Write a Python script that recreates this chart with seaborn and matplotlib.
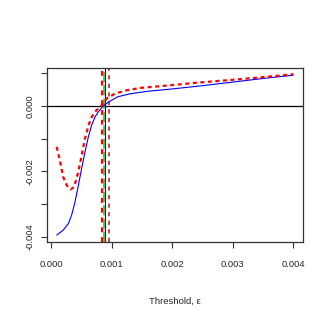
import numpy as np
import pandas as pd
import matplotlib
matplotlib.use("Agg")
import matplotlib.pyplot as plt
import seaborn as sns

# curva azul (solida) e vermelha (pontilhada)
limiar = [0.000094, 0.0002, 0.000286, 0.00034, 0.000396, 0.000451, 0.000506, 0.000561,
          0.000616, 0.00067, 0.000726, 0.00078, 0.00086, 0.00095, 0.0011, 0.0013,
          0.0016, 0.002, 0.0025, 0.003, 0.0035, 0.004]
azul = [-0.00395, -0.0038, -0.0036, -0.00334, -0.00294, -0.00243, -0.00191, -0.00141,
        -0.00095, -0.00059, -0.00034, -0.00018, 0.0, 0.00012, 0.00028, 0.00037,
        0.00045, 0.00052, 0.00062, 0.00073, 0.00084, 0.00094]

limiar_v = [0.000094, 0.00015, 0.0002, 0.00026, 0.000325, 0.00038, 0.00045, 0.000506,
            0.00056, 0.00062, 0.00067, 0.00075, 0.00084, 0.00092, 0.00106, 0.00125,
            0.00147, 0.0019, 0.0024, 0.003, 0.0035, 0.004]
vermelho = [-0.00125, -0.00171, -0.00217, -0.00243, -0.00255, -0.00248, -0.00202, -0.00151,
            -0.001, -0.00059, -0.00034, -0.00013, 0.00002, 0.00023, 0.00038, 0.00048,
            0.00055, 0.00062, 0.00071, 0.0008, 0.00088, 0.00097]

# linhas verticais (limiares estimados)
v_vermelho = 0.000847
v_verde = 0.000875
v_azul = 0.000896
v_marrom = 0.00095

df_azul = pd.DataFrame({"x": limiar, "y": azul})
df_verm = pd.DataFrame({"x": limiar_v, "y": vermelho})

sns.set_style("white")
plt.rcParams['font.family'] = ['Liberation Sans', 'DejaVu Sans']

fig = plt.figure(figsize=(3.27, 3.27), dpi=100)
ax = fig.add_axes([0.1447, 0.261, 0.7828, 0.530])

ax.axhline(0, color='black', lw=0.9)
ax.axvline(v_vermelho, color='red', lw=1.6, ls=(0, (2.2, 2.2)))
ax.axvline(v_verde, color='#22cc22', lw=1.2, ls=(0, (6, 2)))
ax.axvline(v_azul, color='blue', lw=0.8)
ax.axvline(v_marrom, color='#c84848', lw=1.4, ls=(0, (2.2, 2.2)))

sns.lineplot(data=df_azul, x="x", y="y", color='blue', lw=0.8, ax=ax)
sns.lineplot(data=df_verm, x="x", y="y", color='red', lw=1.6, ls=(0, (1.8, 1.6)), ax=ax)

ax.set_xlim(-0.000061, 0.004165)
ax.set_ylim(-0.00415, 0.00115)
ax.set_xticks([0, 0.001, 0.002, 0.003, 0.004])
ax.set_xticklabels(["0.000", "0.001", "0.002", "0.003", "0.004"])
ax.set_yticks([-0.004, -0.003, -0.002, -0.001, 0.0, 0.001])
ax.set_yticklabels(["-0.004", "", "-0.002", "", "0.000", ""], rotation=90, va='center')
ax.tick_params(axis='both', direction='out', length=4, width=0.8, labelsize=6.8,
               color='#333333', bottom=True, left=True)
ax.tick_params(axis='x', pad=9)
ax.tick_params(axis='y', pad=5)
for s in ax.spines.values():
    s.set_color('#333333')
    s.set_linewidth(0.9)

ax.set_xlabel("Threshold, ε", fontsize=6.8, labelpad=20)
ax.set_ylabel("")

fig.savefig("out.png", dpi=100)
